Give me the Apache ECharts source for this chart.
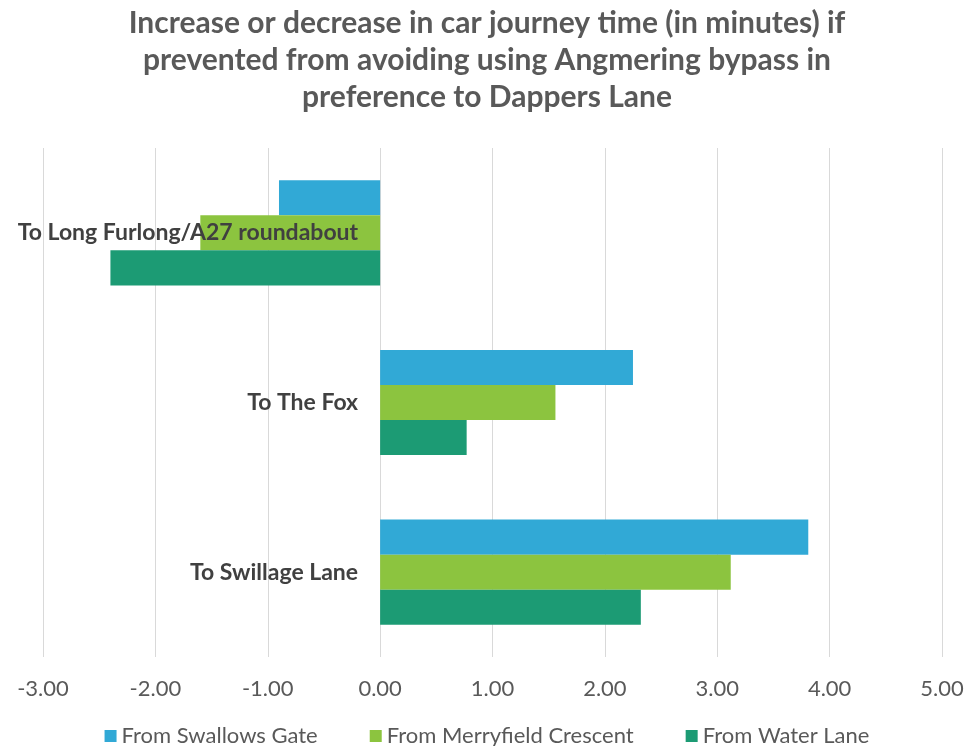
<!DOCTYPE html>
<html>
<head>
<meta charset="utf-8">
<script src="https://cdn.jsdelivr.net/npm/echarts@6/dist/echarts.min.js"></script>
<style>
  html, body { margin: 0; padding: 0; background: #fff; }
  #chart { width: 974px; height: 746px; }
</style>
</head>
<body>
<div id="chart"></div>
<script>
// Destinations, top to bottom
const destinations = ['To Long Furlong/A27 roundabout', 'To The Fox', 'To Swillage Lane'];
// Change in journey time (minutes) for each starting point
const swallowsGate = [-0.90, 2.25, 3.81];
const merryfieldCrescent = [-1.60, 1.56, 3.12];
const waterLane = [-2.40, 0.77, 2.32];
const seriesNames = ['From Swallows Gate', 'From Merryfield Crescent', 'From Water Lane'];
const seriesColors = ['#31A9D6', '#8CC43F', '#1C9B74'];

const font = 'Lato, "Open Sans", sans-serif';
const W = 974;
const gridLeft = 43, gridRight = 32;
const xMin = -3, xMax = 5;

// Category axis sits on the zero line of the value axis
const zeroOffset = -(W - gridLeft - gridRight) * (0 - xMin) / (xMax - xMin);

const chart = echarts.init(document.getElementById('chart'));
const values = [swallowsGate, merryfieldCrescent, waterLane];

chart.setOption({
  animation: false,
  backgroundColor: '#ffffff',
  title: {
    text: 'Increase or decrease in car journey time (in minutes) if\nprevented from avoiding using Angmering bypass in\npreference to Dappers Lane',
    left: 'center',
    top: 0,
    textStyle: {
      fontFamily: font,
      fontSize: 30,
      fontWeight: 'bold',
      color: '#595959',
      lineHeight: 37
    }
  },
  legend: {
    top: 720,
    left: 'center',
    itemWidth: 12,
    itemHeight: 12,
    itemGap: 52,
    icon: 'rect',
    textStyle: { fontFamily: font, fontSize: 22, color: '#595959' },
    data: seriesNames
  },
  grid: {
    left: gridLeft,
    right: gridRight,
    top: 148,
    bottom: 89,
    outerBoundsMode: 'none',
    containLabel: false
  },
  xAxis: {
    type: 'value',
    min: xMin,
    max: xMax,
    interval: 1,
    axisLine: { show: false },
    axisTick: { show: false },
    splitLine: { lineStyle: { color: '#D9D9D9', width: 1 } },
    axisLabel: {
      margin: 21,
      fontFamily: font,
      fontSize: 22,
      color: '#595959',
      formatter: v => v.toFixed(2)
    }
  },
  yAxis: {
    type: 'category',
    data: destinations,
    inverse: true,
    z: 10,
    offset: zeroOffset,
    axisLine: { show: false },
    axisTick: { show: false },
    axisLabel: {
      margin: 22,
      fontFamily: font,
      fontSize: 23,
      fontWeight: 'bold',
      color: '#404040'
    }
  },
  series: seriesNames.map((name, i) => ({
    name,
    type: 'bar',
    data: values[i],
    barGap: '0%',
    barCategoryGap: '38%',
    itemStyle: { color: seriesColors[i] }
  }))
});
</script>
</body>
</html>
